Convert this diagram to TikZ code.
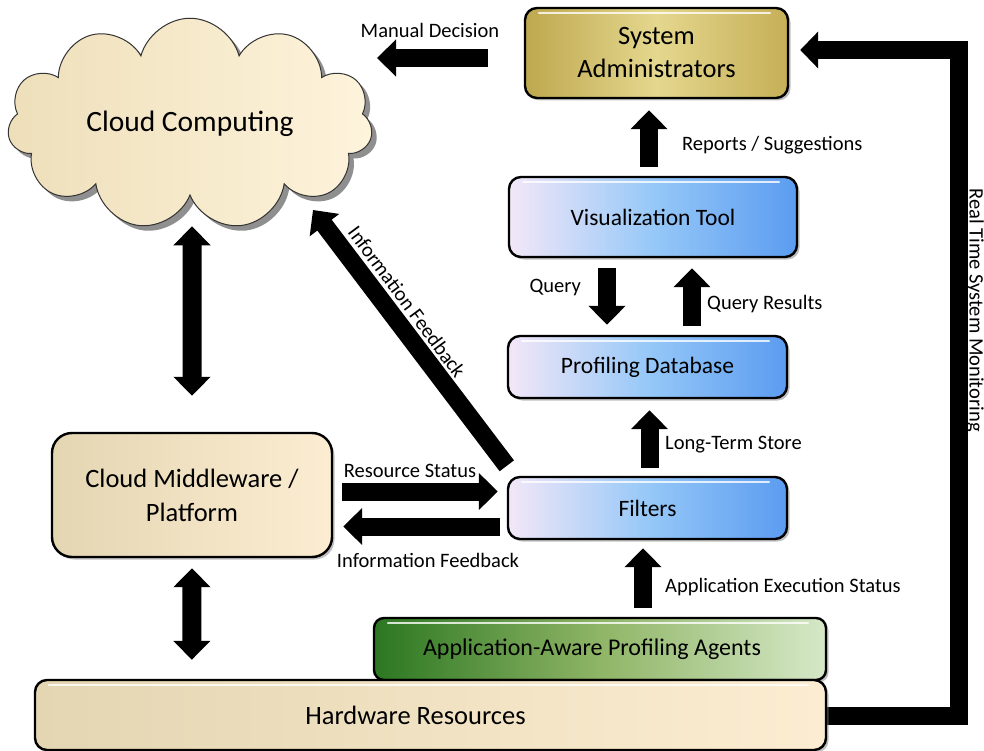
\documentclass[tikz,border=0pt]{standalone}
\usepackage{fontspec}
\setmainfont{Carlito}
\usetikzlibrary{arrows.meta,shapes.symbols,shadows,calc}

\definecolor{cloudA}{HTML}{EEDFBA}
\definecolor{cloudB}{HTML}{FEF4DC}
\definecolor{goldA}{HTML}{BEA84F}
\definecolor{goldM}{HTML}{E4D78E}
\definecolor{goldB}{HTML}{C6AF57}
\definecolor{blueA}{HTML}{F3E7F8}
\definecolor{blueM}{HTML}{96C8F8}
\definecolor{blueB}{HTML}{5B9CF0}
\definecolor{sandA}{HTML}{E4D6B2}
\definecolor{sandB}{HTML}{FCEDD2}
\definecolor{greenA}{HTML}{2C7722}
\definecolor{greenM}{HTML}{8FB566}
\definecolor{greenB}{HTML}{D6E8C8}

\newcommand\boxgloss[1]{%
  \draw[white, opacity=0.8, line width=2pt, line cap=round]
    ($(#1.north west)+(14,5)$) -- ($(#1.north east)+(-18,5)$);}

\begin{document}
\begin{tikzpicture}[x=1pt, y=-1pt,
  box/.style={draw=black, line width=2.4pt, rounded corners=12pt, inner sep=0pt,
    drop shadow={shadow xshift=2.5pt, shadow yshift=-2.5pt, opacity=0.5}},
  bluebox/.style={box, left color=blueA, right color=blueB, middle color=blueM,
    minimum width=279pt, minimum height=62pt, font=\fontsize{23.5}{28}\selectfont},
  sandbox/.style={box, left color=sandA, right color=sandB},
  barrow/.style={line width=18pt, -{Triangle[width=36pt,length=19pt]}},
  darrow/.style={line width=19pt,
    {Triangle[width=36pt,length=19pt]}-{Triangle[width=36pt,length=19pt]}},
  lbl/.style={font=\fontsize{20.5}{24}\selectfont, inner sep=0pt}]

\useasboundingbox (0,0) rectangle (984,751);

% cloud
\node[cloud, cloud puffs=11, aspect=1.9, minimum width=365pt, minimum height=193pt,
  draw=black!80, line width=1pt, left color=cloudA, right color=cloudB,
  drop shadow={shadow xshift=5pt, shadow yshift=-5pt, fill=black!55, opacity=0.8},
  inner sep=0pt, font=\fontsize{29.5}{34}\selectfont] (cloud) at (190,124) {Cloud Computing};

% boxes placed first (invisible) so the connectors can refer to them
\path (656.5,53) coordinate (adminc) (653,217) coordinate (visc)
      (647.5,367) coordinate (dbc) (647.5,508) coordinate (filtc)
      (192,495) coordinate (mwc) (600,649) coordinate (agc) (430.5,715) coordinate (hwc);
\node[minimum width=263pt, minimum height=90pt, inner sep=0pt] (admin) at (adminc) {};
\node[minimum width=288pt, minimum height=80pt, inner sep=0pt] (vis) at (visc) {};
\node[minimum width=279pt, minimum height=62pt, inner sep=0pt] (db) at (dbc) {};
\node[minimum width=279pt, minimum height=62pt, inner sep=0pt] (filt) at (filtc) {};
\node[minimum width=280pt, minimum height=124pt, inner sep=0pt] (mw) at (mwc) {};
\node[minimum width=452pt, minimum height=62pt, inner sep=0pt] (agents) at (agc) {};
\node[minimum width=791pt, minimum height=70pt, inner sep=0pt] (hw) at (hwc) {};

\coordinate (mdtip) at (377,58);
\coordinate (fbtip) at (313,210);
\coordinate (mon) at (959,50);

% connectors
\draw[barrow] ([xshift=-37pt,yshift=-5pt]admin.west) -- (mdtip);
\draw[barrow] ([xshift=-4pt,yshift=10pt]vis.north) -- ([xshift=-7.5pt,yshift=-12pt]admin.south);
\draw[barrow] ([xshift=-46pt,yshift=-11pt]vis.south) -- ([xshift=-40.5pt,yshift=11pt]db.north);
\draw[barrow] ([xshift=44.5pt,yshift=10pt]db.north) -- ([xshift=39pt,yshift=-11pt]vis.south);
\draw[barrow] ([xshift=2pt,yshift=9pt]filt.north) -- ([xshift=2pt,yshift=-12pt]db.south);
\draw[barrow] ([xshift=43pt,yshift=10pt]agents.north) -- ([xshift=-4.5pt,yshift=-9pt]filt.south);
\draw[barrow] ([xshift=10pt,yshift=3.5pt]mw.east) -- ([xshift=-10pt,yshift=16.5pt]filt.west);
\draw[barrow] ([xshift=-8pt,yshift=-18.5pt]filt.west) -- ([xshift=11pt,yshift=-31.5pt]mw.east);
\draw[barrow] ($(filt.north west)+(-1,-11)$) -- (fbtip);
\draw[darrow] ([xshift=2pt,yshift=-30pt]cloud.south) -- ([yshift=37pt]mw.north);
\draw[darrow] ([yshift=-11pt]mw.south) -- ([xshift=157pt,yshift=20pt]hw.north west);
\draw[line width=18pt, -{Triangle[width=36pt,length=18pt]}]
  ([xshift=-3pt,yshift=-1pt]hw.east) -| (mon) -- ([xshift=12pt,yshift=3pt]admin.east);

% labels of the connectors
\node[lbl] at (430,30) {Manual Decision};
\node[lbl, anchor=west] at (682,145) {Reports / Suggestions};
\node[lbl, anchor=east] at (581,287) {Query};
\node[lbl, anchor=west] at (707,304) {Query Results};
\node[lbl, anchor=west] at (665,445) {Long-Term Store};
\node[lbl, anchor=west] at (665,587) {Application Execution Status};
\node[lbl] at (410,471) {Resource Status};
\node[lbl] at (428,560) {Information Feedback};
\node[lbl, rotate=-53.5] at (407,302) {Information Feedback};
\node[lbl, rotate=-90] at (975,310) {Real Time System Monitoring};

% boxes
\node[box, left color=goldA, right color=goldB, middle color=goldM,
  minimum width=263pt, minimum height=90pt, align=center,
  font=\fontsize{26.5}{33}\selectfont] at (adminc) {System\\Administrators};
\boxgloss{admin}
\node[bluebox, minimum width=288pt, minimum height=80pt] at (visc) {Visualization Tool};
\boxgloss{vis}
\node[bluebox] at (dbc) {Profiling Database};
\boxgloss{db}
\node[bluebox] at (filtc) {Filters};
\boxgloss{filt}
\node[sandbox, rounded corners=20pt, minimum width=280pt, minimum height=124pt,
  align=center, font=\fontsize{26.5}{34}\selectfont] at (mwc) {Cloud Middleware /\\Platform};
\node[box, rounded corners=10pt, left color=greenA, right color=greenB, middle color=greenM,
  minimum width=452pt, minimum height=62pt, font=\fontsize{24}{28}\selectfont] at (agc)
  {Application-Aware Profiling Agents\hspace*{16pt}};
\boxgloss{agents}
\node[sandbox, minimum width=791pt, minimum height=70pt,
  font=\fontsize{26.5}{30}\selectfont] at (hwc) {Hardware Resources\hspace*{30pt}};
\boxgloss{hw}

\end{tikzpicture}
\end{document}
